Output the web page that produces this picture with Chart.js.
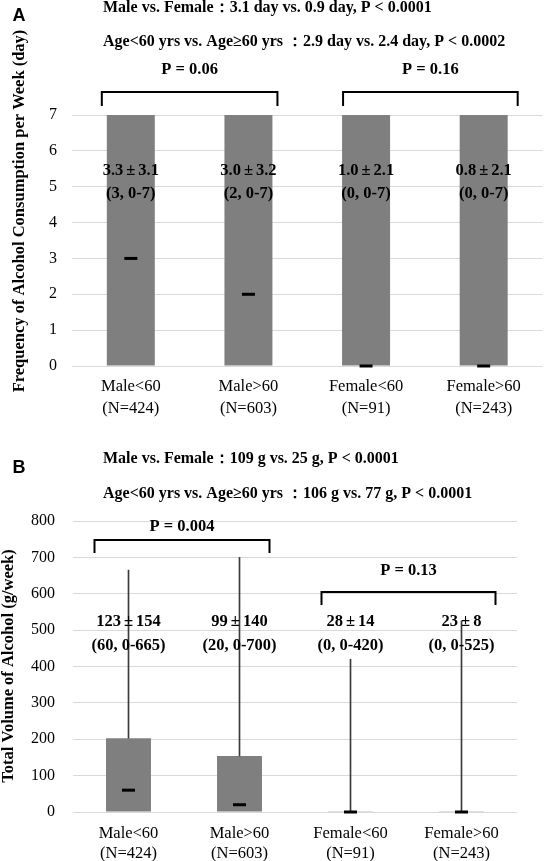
<!DOCTYPE html>
<html>
<head>
<meta charset="utf-8">
<script src="https://cdn.jsdelivr.net/npm/chart.js@4.4.1/dist/chart.umd.min.js"></script>
<style>
  html, body { margin: 0; padding: 0; background: #fff; overflow: hidden; }
  #wrap { position: relative; width: 544px; height: 861px; overflow: hidden; }
  .panel { position: absolute; left: 0; }
  #panelA { top: 0; width: 552px; height: 430px; }
  #panelB { top: 430px; width: 544px; height: 431px; }
</style>
</head>
<body>
<div id="wrap">
  <div class="panel" id="panelA"><canvas id="chartA"></canvas></div>
  <div class="panel" id="panelB"><canvas id="chartB"></canvas></div>
</div>
<script>
/* ── Data ────────────────────────────────────────────────────────────────── */
const groups = [['Male<60', '(N=424)'], ['Male>60', '(N=603)'], ['Female<60', '(N=91)'], ['Female>60', '(N=243)']];

// Panel A: frequency (day / week)
const freqBar    = [7, 7, 7, 7];
const freqMedian = [3, 2, 0, 0];
const freqMean   = ['3.3±3.1', '3.0±3.2', '1.0±2.1', '0.8±2.1'];
const freqRange  = ['(3, 0-7)', '(2, 0-7)', '(0, 0-7)', '(0, 0-7)'];
const freqTickMax = 7;
const freqHeader = ['Male vs. Female：3.1 day vs. 0.9 day, P < 0.0001',
                    'Age<60 yrs vs. Age≥60 yrs ：2.9 day vs. 2.4 day, P < 0.0002'];
const freqPvals  = ['P = 0.06', 'P = 0.16'];

// Panel B: total volume (g / week)
const volBox    = [203, 154, 2, 2];
const volMax    = [665, 700, 420, 525];
const volMedian = [60, 20, 0, 0];
const volMean   = ['123±154', '99±140', '28±14', '23±8'];
const volRange  = ['(60, 0-665)', '(20, 0-700)', '(0, 0-420)', '(0, 0-525)'];
const volTickMax = 800;
const volHeader = ['Male vs. Female：109 g vs. 25 g, P < 0.0001',
                   'Age<60 yrs vs. Age≥60 yrs ：106 g vs. 77 g, P < 0.0001'];
const volPvals  = ['P = 0.004', 'P = 0.13'];

/* ── Helpers ─────────────────────────────────────────────────────────────── */
const SERIF = '"Liberation Serif", "Times New Roman", serif';
const BOLD = `bold 16.5px ${SERIF}`;

// centred text where the ± sign gets a little air on both sides, like the original
function fillStat(ctx, text, cx, cy) {
  const parts = text.split('±');
  if (parts.length < 2) { ctx.textAlign = 'center'; ctx.fillText(text, cx, cy); return; }
  const gap = 3;
  const wa = ctx.measureText(parts[0]).width;
  const wp = ctx.measureText('±').width;
  const wb = ctx.measureText(parts[1]).width;
  let x = cx - (wa + wp + wb + 2 * gap) / 2;
  ctx.textAlign = 'left';
  ctx.fillText(parts[0], x, cy); x += wa + gap;
  ctx.fillText('±', x, cy);      x += wp + gap;
  ctx.fillText(parts[1], x, cy);
}

// draws headers, panel letter, y title, brackets and in-bar statistics
const panelText = {
  id: 'panelText',
  afterDraw(chart, args, o) {
    const { ctx, scales: { x, y } } = chart;
    ctx.save();
    ctx.fillStyle = '#000';
    ctx.textBaseline = 'middle';

    ctx.font = 'bold 18px "Liberation Sans", Arial, sans-serif';
    ctx.textAlign = 'center';
    ctx.fillText(o.letter, 19, o.letterY);

    ctx.font = `bold 16px ${SERIF}`;
    ctx.textAlign = 'left';
    o.header.forEach((t, i) => ctx.fillText(t, 103, o.headerY[i]));

    ctx.font = BOLD;
    // y title
    ctx.save();
    ctx.translate(o.titleX, o.titleY);
    ctx.rotate(-Math.PI / 2);
    ctx.textAlign = 'center';
    ctx.fillText(o.title, 0, 0);
    ctx.restore();

    // brackets
    ctx.strokeStyle = '#000';
    ctx.lineWidth = 2;
    ctx.textAlign = 'center';
    o.brackets.forEach(b => {
      const x1 = x.getPixelForValue(b.from) - b.padL;
      const x2 = x.getPixelForValue(b.to) + b.padR;
      const top = y.getPixelForValue(b.top);
      const foot = y.getPixelForValue(b.foot);
      ctx.beginPath();
      ctx.moveTo(x1, foot); ctx.lineTo(x1, top); ctx.lineTo(x2, top); ctx.lineTo(x2, foot);
      ctx.stroke();
      ctx.fillText(b.text, (x1 + x2) / 2, y.getPixelForValue(b.textAt));
    });

    // mean / median text
    o.mean.forEach((t, i) => {
      const cx = x.getPixelForValue(i);
      fillStat(ctx, t, cx, y.getPixelForValue(o.statAt[0]));
      fillStat(ctx, o.range[i], cx, y.getPixelForValue(o.statAt[1]));
    });
    ctx.restore();
  }
};

function buildChart(id, cfg) {
  const datasets = [{
    type: 'line', data: cfg.median, showLine: false, clip: false,
    pointStyle: 'line', pointRadius: 6.5, pointHoverRadius: 6.5,
    pointBorderWidth: 3, pointBorderColor: '#000', borderColor: '#000', order: 0,
  }];
  if (cfg.whisker) {
    datasets.push({
      data: cfg.whisker, backgroundColor: '#3a3a3a', barThickness: 1,
      grouped: false, order: 1,
    });
  }
  datasets.push({
    data: cfg.bars, backgroundColor: '#7f7f7f', barPercentage: cfg.barPct,
    categoryPercentage: 1, grouped: false, order: 2,
  });

  return new Chart(document.getElementById(id), {
    type: 'bar',
    data: { labels: groups, datasets },
    plugins: [panelText],
    options: {
      responsive: true,
      maintainAspectRatio: false,
      animation: false,
      layout: { padding: cfg.padding },
      plugins: { legend: { display: false }, tooltip: { enabled: false }, panelText: cfg.text },
      scales: {
        x: {
          grid: { display: false },
          border: { display: false },
          afterFit: s => { s.height = cfg.xHeight; s.paddingLeft = 0; s.paddingRight = 0; },
          ticks: { color: '#000', padding: cfg.xPad, font: { family: SERIF, size: 16.5, lineHeight: cfg.xLine } },
        },
        y: {
          min: 0, max: cfg.max,
          afterFit: s => { s.width = cfg.yWidth; s.paddingTop = 0; s.paddingBottom = 0; },
          grid: { color: '#d9d9d9', lineWidth: 1, drawTicks: false },
          border: { display: false },
          ticks: { stepSize: cfg.max / (cfg.max > 10 ? 8 : 7), color: '#000', padding: cfg.yPad,
                   font: { family: SERIF, size: 16 } },
        },
      },
    },
  });
}

/* ── Charts ──────────────────────────────────────────────────────────────── */
buildChart('chartA', {
  bars: freqBar, median: freqMedian, max: freqTickMax, barPct: 0.408,
  padding: { top: 115, right: 0, left: 0, bottom: 0 },
  xHeight: 64, xPad: 2, xLine: 22 / 16.5, yWidth: 72, yPad: 15,
  text: {
    letter: 'A', letterY: 16, header: freqHeader, headerY: [8, 42],
    title: 'Frequency of Alcohol Consumption per Week (day)', titleX: 20, titleY: 211,
    brackets: [
      { from: 0, to: 1, padL: 29, padR: 29, top: 7.64, foot: 7.25, textAt: 8.25, text: freqPvals[0] },
      { from: 2, to: 3, padL: 23, padR: 34, top: 7.64, foot: 7.25, textAt: 8.25, text: freqPvals[1] },
    ],
    mean: freqMean, range: freqRange, statAt: [5.44, 4.8],
  },
});

buildChart('chartB', {
  bars: volBox, median: volMedian, max: volTickMax, barPct: 0.405,
  whisker: volBox.map((v, i) => [v, volMax[i]]),
  padding: { top: 91, right: 27, left: 0, bottom: 0 },
  xHeight: 49, xPad: 4, xLine: 20 / 16.5, yWidth: 73, yPad: 18,
  text: {
    letter: 'B', letterY: 38, header: volHeader, headerY: [29, 64],
    title: 'Total Volume of Alcohol (g/week)', titleX: 9, titleY: 236,
    brackets: [
      { from: 0, to: 1, padL: 34, padR: 30, top: 748, foot: 712, textAt: 783, text: volPvals[0] },
      { from: 2, to: 3, padL: 29, padR: 34, top: 605, foot: 569, textAt: 663, text: volPvals[1] },
    ],
    mean: volMean, range: volRange, statAt: [522, 456],
  },
});
</script>
</body>
</html>
